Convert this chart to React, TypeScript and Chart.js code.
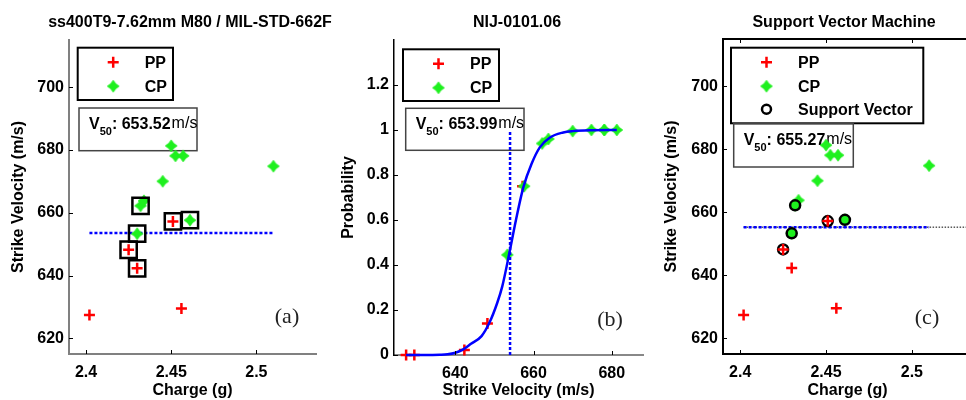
import React, { useEffect, useRef } from "react";
import { Chart, registerables } from "chart.js";

Chart.register(...registerables);

// ---------------- data ----------------
const ppCharge = [2.402, 2.425, 2.43, 2.451, 2.456];
const ppVelocity = [627.4, 648.2, 642.3, 657.2, 629.5];
const ppProbability = [0, 0.14, 0.022, 0.75, 0];

const cpCharge = [2.43, 2.432, 2.434, 2.445, 2.45, 2.4525, 2.457, 2.461, 2.51];
const cpVelocity = [653.3, 662.2, 663.8, 670.0, 681.3, 678.1, 678.1, 657.6, 674.8];
const cpProbability = [0.445, 0.94, 0.96, 0.995, 1, 1, 1, 0.75, 1];

// indices of the shots boxed in (a) and used as support vectors in (c)
const boxedPP = [1, 2, 3];
const boxedCP = [0, 1, 7];
const supportPP = [1, 3];
const supportCP = [0, 1, 7];

// fitted response curve of (b)
const curveVelocity = [627.4, 632, 636, 638, 640, 642, 644, 646.7, 648.7, 650.7, 652, 653.8, 655.5, 657.4, 659.5, 661.6, 664.2, 667.6, 670, 675, 681.3];
const curveProbability = [0, 0, 0.001, 0.003, 0.01, 0.025, 0.05, 0.084, 0.143, 0.231, 0.305, 0.452, 0.6, 0.746, 0.85, 0.923, 0.967, 0.989, 0.995, 0.999, 1];

const v50Mil = 653.52;
const v50Nij = 653.99;
const v50Svm = 655.27;
const v50Label = ["653.52", "653.99", "655.27"];

const chargeRange = [2.39, 2.535];
const velocityRange = [615, 715];
const speedRange = [624.3, 688];
const probabilityRange = [0, 1.4];

const chargeTicks = [2.4, 2.45, 2.5];
const velocityTicks = [620, 640, 660, 680, 700];
const speedTicks = [640, 660, 680];
const probabilityTicks = [0, 0.2, 0.4, 0.6, 0.8, 1, 1.2];

// ---------------- styles ----------------
const RED = "#ff0000";
const GREEN = "rgb(30,240,30)";
const BLUE = "#0000ff";
const DOTS = [3, 2];
const SANS = '"Liberation Sans", Arial, sans-serif';
const BOLD16 = `bold 16px ${SANS}`;

function makeStar(color: string): HTMLCanvasElement {
  const c = document.createElement("canvas");
  c.width = 14;
  c.height = 14;
  const g = c.getContext("2d")!;
  g.translate(7, 7);
  const R = 5.8;
  const r = 2.5;
  g.beginPath();
  g.moveTo(0, -R);
  g.lineTo(r, -r);
  g.lineTo(R, 0);
  g.lineTo(r, r);
  g.lineTo(0, R);
  g.lineTo(-r, r);
  g.lineTo(-R, 0);
  g.lineTo(-r, -r);
  g.closePath();
  g.fillStyle = color;
  g.fill();
  g.strokeStyle = color;
  g.lineWidth = 1;
  g.stroke();
  return c;
}
const starImage = typeof document !== "undefined" ? makeStar(GREEN) : undefined;

const minCharge = Math.min(...ppCharge, ...cpCharge);
const maxCharge = Math.max(...ppCharge, ...cpCharge);

// ---------------- helpers ----------------
type Rect = { x: number; y: number; w: number; h: number };
type Decor = {
  title: string;
  titleX: number;
  xTitle: string;
  yTitle: string;
  yTitleX: number;
  letter: string;
  letterX: number;
  letterY: number;
  legend: Rect;
  legendItems: string[];
  v50Box: Rect;
  v50Text: string;
  xTicks: number[];
  yTicks: number[];
  topAxis?: boolean;
};

function drawCross(ctx: CanvasRenderingContext2D, x: number, y: number) {
  ctx.save();
  ctx.strokeStyle = RED;
  ctx.lineWidth = 2.5;
  ctx.beginPath();
  ctx.moveTo(x - 5.5, y);
  ctx.lineTo(x + 5.5, y);
  ctx.moveTo(x, y - 5.5);
  ctx.lineTo(x, y + 5.5);
  ctx.stroke();
  ctx.restore();
}

function decorPlugin(d: Decor) {
  return {
    id: "decor",
    beforeDatasetsDraw(chart: any) {
      const ctx: CanvasRenderingContext2D = chart.ctx;
      ctx.save();
      // legend
      const L = d.legend;
      ctx.strokeStyle = "#000";
      ctx.lineWidth = 2;
      ctx.strokeRect(L.x, L.y, L.w, L.h);
      const rows = [14.5, 38.5, 61.5];
      d.legendItems.forEach((item, i) => {
        const my = L.y + rows[i];
        const mx = L.x + 35.5;
        if (item === "PP") drawCross(ctx, mx, my);
        else if (item === "CP") {
          if (starImage) ctx.drawImage(starImage, mx - 7, my - 7);
        } else {
          ctx.beginPath();
          ctx.strokeStyle = "#000";
          ctx.lineWidth = 2.5;
          ctx.arc(mx, my, 4.5, 0, Math.PI * 2);
          ctx.stroke();
        }
        ctx.fillStyle = "#000";
        ctx.font = BOLD16;
        ctx.textAlign = "left";
        ctx.textBaseline = "middle";
        ctx.fillText(item, L.x + 67, my + 1);
      });
      // V50 box
      const B = d.v50Box;
      ctx.strokeStyle = "#444";
      ctx.lineWidth = 1.5;
      ctx.strokeRect(B.x, B.y, B.w, B.h);
      ctx.fillStyle = "#000";
      ctx.textBaseline = "alphabetic";
      ctx.textAlign = "left";
      let x = B.x + 10;
      const base = B.y + 21;
      ctx.font = BOLD16;
      ctx.fillText("V", x, base);
      x += ctx.measureText("V").width;
      ctx.font = `bold 11px ${SANS}`;
      ctx.fillText("50", x, base + 6);
      x += ctx.measureText("50").width;
      ctx.font = BOLD16;
      const s = ": " + d.v50Text;
      ctx.fillText(s, x, base);
      x += ctx.measureText(s).width;
      ctx.font = `16px ${SANS}`;
      ctx.fillText("m/s", x + 1, base - 1);
      ctx.restore();
    },
    afterDraw(chart: any) {
      const ctx: CanvasRenderingContext2D = chart.ctx;
      const a = chart.chartArea;
      const xs = chart.scales.x;
      const ys = chart.scales.y;
      ctx.save();
      // inward ticks
      ctx.strokeStyle = "#000";
      ctx.lineWidth = 1;
      ctx.beginPath();
      d.xTicks.forEach((v) => {
        const px = Math.round(xs.getPixelForValue(v)) + 0.5;
        ctx.moveTo(px, a.bottom);
        ctx.lineTo(px, a.bottom - 4);
        if (d.topAxis) {
          ctx.moveTo(px, a.top);
          ctx.lineTo(px, a.top + 4);
        }
      });
      d.yTicks.forEach((v) => {
        const py = Math.round(ys.getPixelForValue(v)) + 0.5;
        ctx.moveTo(a.left, py);
        ctx.lineTo(a.left + 4, py);
      });
      ctx.stroke();
      if (d.topAxis) {
        ctx.beginPath();
        ctx.lineWidth = 2;
        ctx.moveTo(a.left - 1, a.top);
        ctx.lineTo(a.right, a.top);
        ctx.stroke();
      }
      // titles
      ctx.fillStyle = "#000";
      ctx.font = BOLD16;
      ctx.textAlign = "center";
      ctx.textBaseline = "alphabetic";
      ctx.fillText(d.title, d.titleX, 26.5);
      ctx.textBaseline = "middle";
      ctx.fillText(d.xTitle, (a.left + a.right) / 2, 391);
      ctx.save();
      ctx.translate(d.yTitleX, (a.top + a.bottom) / 2);
      ctx.rotate(-Math.PI / 2);
      ctx.fillText(d.yTitle, 0, 0);
      ctx.restore();
      // panel letter
      ctx.font = '22px "Liberation Serif", "Times New Roman", serif';
      ctx.fillStyle = "#222";
      ctx.fillText(d.letter, d.letterX, d.letterY);
      ctx.restore();
    },
  };
}

function scale(axis: "x" | "y", range: number[], ticks: number[], color: string, width: number) {
  return {
    type: "linear",
    min: range[0],
    max: range[1],
    grid: { display: false, drawTicks: false },
    border: { display: true, color, width },
    ticks: {
      color: "#000",
      font: { family: SANS, size: 16, weight: "bold" },
      padding: axis === "x" ? 9 : 5,
      autoSkip: false,
      maxRotation: 0,
      callback: (v: any) => String(v),
    },
    afterBuildTicks: (s: any) => {
      s.ticks = ticks.map((v) => ({ value: v }));
    },
    afterFit: (s: any) => {
      if (axis === "x") s.height = 40;
      else s.width = 50;
    },
  };
}

function baseOptions(pad: { left: number; right: number; top: number; bottom: number }, scales: any) {
  return {
    responsive: false,
    animation: false,
    devicePixelRatio: 1,
    layout: { padding: pad },
    plugins: { legend: { display: false }, tooltip: { enabled: false }, title: { display: false } },
    events: [],
    scales,
  };
}

const ppPoints = (ys: number[]) => ppCharge.map((c, i) => ({ x: c, y: ys[i] }));

// ---------------- panel (a) ----------------
function milConfig(): any {
  const boxed = [
    ...boxedPP.map((i) => ({ x: ppCharge[i], y: ppVelocity[i] })),
    ...boxedCP.map((i) => ({ x: cpCharge[i], y: cpVelocity[i] })),
  ];
  return {
    type: "scatter",
    data: {
      datasets: [
        { label: "PP", data: ppPoints(ppVelocity), pointStyle: "cross", pointRadius: 5.5, pointBorderWidth: 2.5, borderColor: RED, backgroundColor: RED, order: 0, clip: false },
        { label: "boxed", data: boxed, pointStyle: "rect", pointRadius: 11.5, pointBorderWidth: 2.5, borderColor: "#000", backgroundColor: "rgba(0,0,0,0)", order: 1, clip: false },
        { label: "CP", data: cpCharge.map((c, i) => ({ x: c, y: cpVelocity[i] })), pointStyle: starImage, pointRadius: 5, order: 2, clip: false },
        { label: "V50", data: [{ x: minCharge, y: v50Mil }, { x: maxCharge, y: v50Mil }], showLine: true, borderColor: BLUE, borderWidth: 2.5, borderDash: DOTS, pointRadius: 0, order: 3 },
      ],
    },
    options: baseOptions(
      { left: 19, right: 650, top: 40, bottom: 6 },
      { x: scale("x", chargeRange, chargeTicks, "#808080", 2), y: scale("y", velocityRange, velocityTicks, "#808080", 2) }
    ),
    plugins: [
      decorPlugin({
        title: "ss400T9-7.62mm M80 / MIL-STD-662F",
        titleX: 190,
        xTitle: "Charge (g)",
        yTitle: "Strike Velocity (m/s)",
        yTitleX: 18.5,
        letter: "(a)",
        letterX: 287,
        letterY: 317,
        legend: { x: 77.7, y: 47.7, w: 95.3, h: 52.3 },
        legendItems: ["PP", "CP"],
        v50Box: { x: 79, y: 108, w: 118, h: 42.7 },
        v50Text: v50Label[0],
        xTicks: chargeTicks,
        yTicks: velocityTicks,
      }),
    ],
  };
}

// ---------------- panel (b) ----------------
function nijConfig(): any {
  return {
    type: "scatter",
    data: {
      datasets: [
        { label: "PP", data: ppVelocity.map((v, i) => ({ x: v, y: ppProbability[i] })), pointStyle: "cross", pointRadius: 5.5, pointBorderWidth: 2.5, borderColor: RED, backgroundColor: RED, order: 3, clip: false },
        { label: "CP", data: cpVelocity.map((v, i) => ({ x: v, y: cpProbability[i] })), pointStyle: starImage, pointRadius: 5, order: 2, clip: false },
        { label: "fit", data: curveVelocity.map((v, i) => ({ x: v, y: curveProbability[i] })), showLine: true, cubicInterpolationMode: "monotone", borderColor: BLUE, borderWidth: 2.5, pointRadius: 0, order: 0, clip: false },
        { label: "V50", data: [{ x: v50Nij, y: 0 }, { x: v50Nij, y: 1 }], showLine: true, borderColor: BLUE, borderWidth: 2.5, borderDash: DOTS, pointRadius: 0, order: 1 },
      ],
    },
    options: baseOptions(
      { left: 344, right: 323, top: 40, bottom: 5 },
      { x: scale("x", speedRange, speedTicks, "#888888", 2), y: scale("y", probabilityRange, probabilityTicks, "#000000", 1.5) }
    ),
    plugins: [
      decorPlugin({
        title: "NIJ-0101.06",
        titleX: 517,
        xTitle: "Strike Velocity (m/s)",
        yTitle: "Probability",
        yTitleX: 349,
        letter: "(b)",
        letterX: 610,
        letterY: 320,
        legend: { x: 403, y: 49.3, w: 96, h: 51.7 },
        legendItems: ["PP", "CP"],
        v50Box: { x: 405.7, y: 108.3, w: 118.3, h: 42 },
        v50Text: v50Label[1],
        xTicks: speedTicks,
        yTicks: probabilityTicks,
      }),
    ],
  };
}

// ---------------- panel (c) ----------------
function svmConfig(): any {
  const support = [
    ...supportPP.map((i) => ({ x: ppCharge[i], y: ppVelocity[i] })),
    ...supportCP.map((i) => ({ x: cpCharge[i], y: cpVelocity[i] })),
  ];
  const supportFill = [...supportPP.map(() => "rgba(255,255,255,0)"), ...supportCP.map(() => GREEN)];
  return {
    type: "scatter",
    data: {
      datasets: [
        { label: "PP", data: ppPoints(ppVelocity), pointStyle: "cross", pointRadius: 5.5, pointBorderWidth: 2.5, borderColor: RED, backgroundColor: RED, order: 0, clip: false },
        { label: "Support Vector", data: support, pointStyle: "circle", pointRadius: 5, pointBorderWidth: 2.5, borderColor: "#000", backgroundColor: supportFill, order: 1, clip: false },
        { label: "CP", data: cpCharge.map((c, i) => ({ x: c, y: cpVelocity[i] })), pointStyle: starImage, pointRadius: 5, order: 2, clip: false },
        { label: "V50", data: [{ x: minCharge, y: v50Svm }, { x: maxCharge, y: v50Svm }], showLine: true, borderColor: BLUE, borderWidth: 2.5, borderDash: DOTS, pointRadius: 0, order: 3 },
        { label: "boundary", data: [{ x: minCharge, y: v50Svm }, { x: chargeRange[1], y: v50Svm }], showLine: true, borderColor: "#000", borderWidth: 1, borderDash: [1.5, 1.5], pointRadius: 0, order: 4 },
      ],
    },
    options: baseOptions(
      { left: 673, right: 38, top: 39, bottom: 6 },
      { x: scale("x", chargeRange, chargeTicks, "#000", 2), y: scale("y", velocityRange, velocityTicks, "#000", 2) }
    ),
    plugins: [
      decorPlugin({
        title: "Support Vector Machine",
        titleX: 844,
        xTitle: "Charge (g)",
        yTitle: "Strike Velocity (m/s)",
        yTitleX: 672,
        letter: "(c)",
        letterX: 927,
        letterY: 318,
        legend: { x: 731, y: 47.7, w: 192.3, h: 75.6 },
        legendItems: ["PP", "CP", "Support Vector"],
        v50Box: { x: 733.7, y: 123.7, w: 119.6, h: 43.3 },
        v50Text: v50Label[2],
        xTicks: chargeTicks,
        yTicks: velocityTicks,
        topAxis: true,
      }),
    ],
  };
}

function Panel({ width, make }: { width: number; make: () => any }) {
  const ref = useRef<HTMLCanvasElement>(null);
  useEffect(() => {
    const chart = new Chart(ref.current!, make());
    return () => chart.destroy();
  }, []);
  return (
    <canvas
      ref={ref}
      width={width}
      height={400}
      style={{ position: "absolute", left: 0, top: 0, width, height: 400 }}
    />
  );
}

export default function App() {
  return (
    <div
      style={{
        position: "fixed",
        left: 0,
        top: 0,
        width: 966,
        height: 400,
        overflow: "hidden",
        background: "#fff",
      }}
    >
      <Panel width={966} make={milConfig} />
      <Panel width={966} make={nijConfig} />
      <Panel width={1010} make={svmConfig} />
    </div>
  );
}
